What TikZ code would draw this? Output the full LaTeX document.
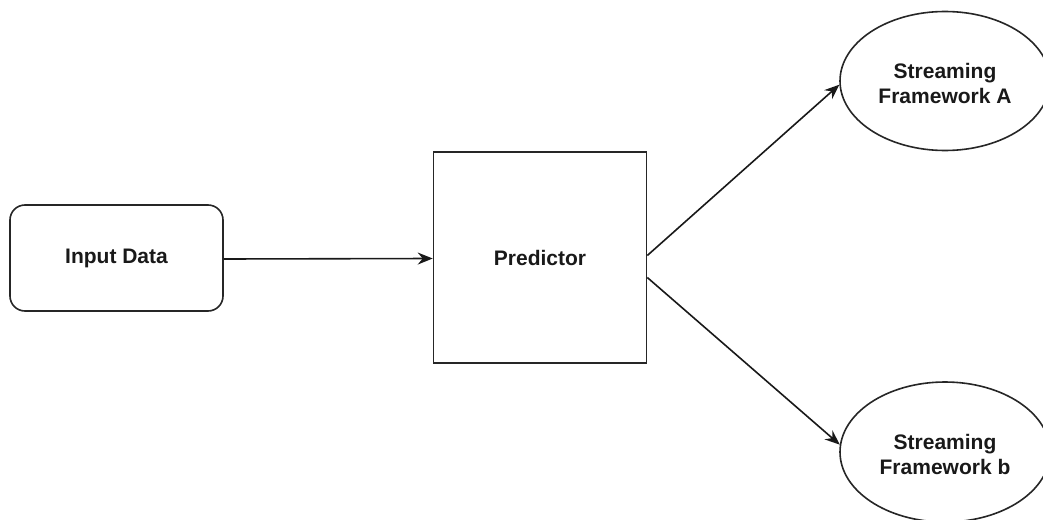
\documentclass[tikz,border=0pt]{standalone}
\usepackage{fontspec}
\setmainfont{Liberation Sans}
\usetikzlibrary{shapes.geometric,arrows.meta}
\begin{document}
\begin{tikzpicture}[x=1pt,y=-1pt,
  every node/.style={font=\fontsize{21}{25}\selectfont\bfseries, text=black!90, align=center},
  shapebox/.style={draw=black!85, line width=1.6pt},
  conn/.style={draw=black!90, line width=1.6pt, -{Stealth[length=15pt,width=12pt,inset=5pt]}}]
\useasboundingbox (0,0) rectangle (1043,519);
\clip (0,0) rectangle (1043,519);
\node[shapebox, rounded corners=15pt, minimum width=213pt, minimum height=106pt, inner sep=0pt] (in) at (116.5,258) {Input Data};
\node[shapebox, minimum width=213pt, minimum height=211pt, inner sep=0pt] (P) at (540,257.5) {Predictor};
\node[shapebox, ellipse, minimum width=210pt, minimum height=139pt, inner sep=0pt] (A) at (945,81) {};
\node at (945,83) {Streaming\\Framework A};
\node[shapebox, ellipse, minimum width=210pt, minimum height=140pt, inner sep=0pt] (B) at (945,452) {};
\node at (945,454) {Streaming\\Framework b};
\draw[conn] ([yshift=-1pt]in.east) -- ([yshift=-1pt]P.west);
\draw[conn] ([yshift=2pt]P.east) -- (A.182);
\draw[conn] ([yshift=-20pt]P.east) -- (B.176);
\end{tikzpicture}
\end{document}
